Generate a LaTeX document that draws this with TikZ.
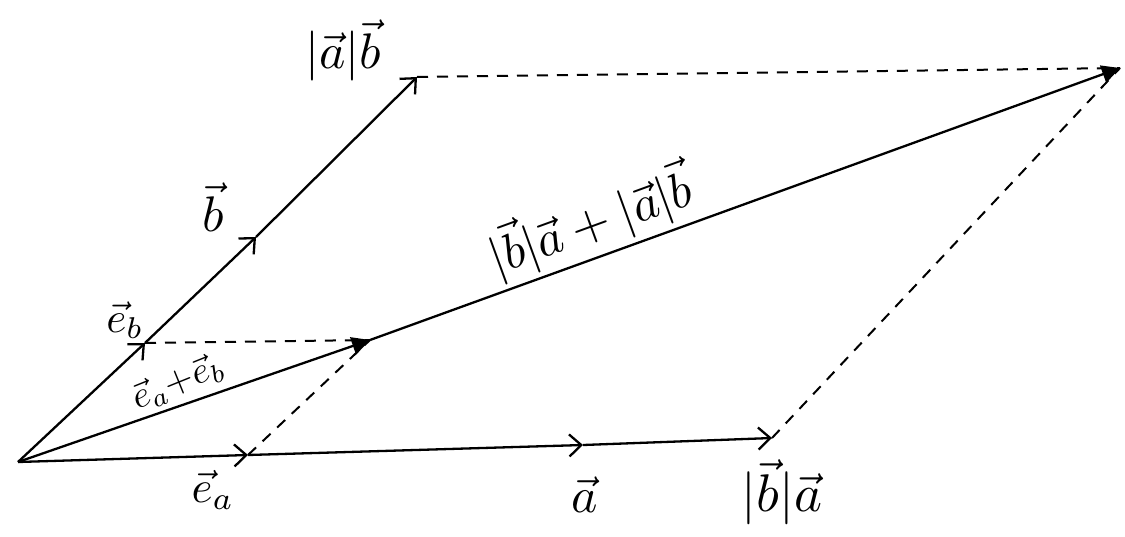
\documentclass[tikz,border=0pt]{standalone}
\usepackage{graphicx}
\usetikzlibrary{arrows.meta}
\begin{document}
\begin{tikzpicture}[x=1pt,y=-1pt,
  vec/.style={line width=2.3pt,-{Straight Barb[length=12pt,width=22pt,line width=2.3pt]}},
  sumvec/.style={line width=2.3pt,-{Triangle[length=18pt,width=18pt]}},
  guide/.style={line width=2pt,dash pattern=on 11pt off 9pt},
  lbl/.style={inner sep=1pt}]
\useasboundingbox (0,0) rectangle (1125,536);
\coordinate (O) at (18,462);
\coordinate (ea) at (248,455);
\coordinate (a) at (583,445);
\coordinate (ba) at (772,438);
\coordinate (eb) at (145,343);
\coordinate (b) at (256,237);
\coordinate (ab) at (417,77);
\coordinate (S) at (370,340);
\coordinate (F) at (1120,68);
% a axis
\draw[vec] (O) -- (ea);
\draw[vec] (ea) -- (a);
\draw[vec] (a) -- (ba);
% b axis
\draw[vec] (O) -- (eb);
\draw[vec] (eb) -- (b);
\draw[vec] (b) -- (ab);
% diagonal
\draw[sumvec] (O) -- (S);
\draw[sumvec] (S) -- (F);
% dashed guides
\draw[guide] (eb) -- (S);
\draw[guide] (ea) -- (S);
\draw[guide] (ab) -- (F);
\draw[guide] (ba) -- (F);
% labels
\node[lbl] (Lab) at (343,50) {\scalebox{5}{$|\vec a|\vec b$}};
\node[lbl] (Lb) at (213,207) {\scalebox{5}{$\vec b$}};
\node[lbl] (Leb) at (125,320) {\scalebox{4.3}{$\vec e_b$}};
\node[lbl,rotate=22] (Lsum1) at (178,382) {\scalebox{3.7}{$\vec e_a{+}\vec e_b$}};
\node[lbl] (Lea) at (213,490) {\scalebox{4.5}{$\vec e_a$}};
\node[lbl] (La) at (585,495) {\scalebox{5}{$\vec a$}};
\node[lbl] (Lba) at (782,492) {\scalebox{5.3}{$|\vec b|\vec a$}};
\node[lbl,rotate=20] (Lsum2) at (590,222) {\scalebox{5}{$|\vec b|\vec a+|\vec a|\vec b$}};
\end{tikzpicture}
\end{document}
